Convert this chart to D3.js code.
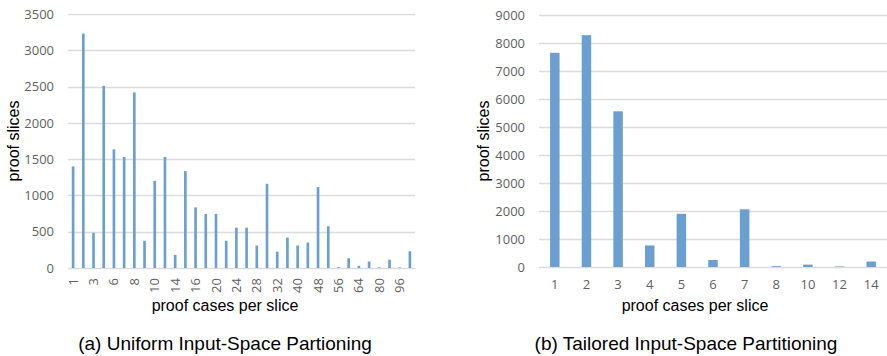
<!DOCTYPE html>
<html>
<head>
<meta charset="utf-8">
<script src="https://cdn.jsdelivr.net/npm/d3@7"></script>
<style>
  body { margin: 0; background: #fff; }
  svg { display: block; }
  .tick text { font-family: "Open Sans", sans-serif; font-size: 13px; fill: #5f5f5f; }
  .title { font-family: "Liberation Sans", Arial, sans-serif; fill: #000; }
</style>
</head>
<body>
<svg id="chart" width="887" height="356"></svg>
<script>
// (a) uniform partitioning
const uniformCases = ["1","2","3","4","6","7","8","9","10","12","14","15","16","18","20","22","24","26","28","30","32","36","40","44","48","52","56","60","64","72","80","88","96","112"];
const uniformSlices = [1400,3230,485,2510,1635,1530,2420,375,1200,1530,180,1335,835,745,745,375,555,555,310,1160,225,420,310,350,1115,575,12,135,30,90,10,115,8,230];
const uniformTicks = ["1","3","6","8","10","14","16","20","24","28","32","40","48","56","64","80","96"];
const uniformYTicks = [0,500,1000,1500,2000,2500,3000,3500];

// (b) tailored partitioning
const tailoredCases = ["1","2","3","4","5","6","7","8","10","12","14"];
const tailoredSlices = [7650,8280,5560,770,1900,250,2060,30,85,20,195];
const tailoredYTicks = [0,1000,2000,3000,4000,5000,6000,7000,8000,9000];

const barColor = '#6b9fd1';
const gridColor = '#dcdcdc';

const svg = d3.select('#chart');

function drawPanel(opts) {
    const {left, right, top, bottom, cats, vals, yTicks, xTicks, rotate, pad} = opts;

    const x = d3.scaleBand().domain(cats).range([left, right]).paddingInner(pad).paddingOuter(pad / 2);
    const y = d3.scaleLinear().domain([0, d3.max(yTicks)]).range([bottom, top]);

    const g = svg.append('g');

    // gridlines
    g.append('g')
        .selectAll('line')
        .data(yTicks)
        .join('line')
        .attr('x1', left)
        .attr('x2', right)
        .attr('y1', d => Math.round(y(d)) + 0.5)
        .attr('y2', d => Math.round(y(d)) + 0.5)
        .attr('stroke', gridColor)
        .attr('stroke-width', 1.3);

    // bars
    g.append('g')
        .selectAll('rect')
        .data(cats)
        .join('rect')
        .attr('x', (d) => x(d))
        .attr('width', x.bandwidth())
        .attr('y', (d, i) => y(vals[i]))
        .attr('height', (d, i) => bottom - y(vals[i]))
        .attr('fill', barColor);

    // y axis
    const yAxis = d3.axisLeft(y).tickValues(yTicks).tickFormat(d3.format('d')).tickSize(0).tickPadding(opts.yPad);
    const ya = g.append('g').attr('transform', `translate(${left},0)`).call(yAxis);
    ya.select('.domain').remove();

    // x axis
    const xAxis = d3.axisBottom(x).tickValues(xTicks).tickSize(0);
    const xa = g.append('g').attr('transform', `translate(0,${bottom})`).call(xAxis);
    xa.select('.domain').remove();
    if (rotate) {
        xa.selectAll('text')
            .style('text-anchor', 'end')
            .attr('dx', '-10px')
            .attr('dy', '0.35em')
            .attr('y', 0)
            .attr('transform', 'rotate(-90)');
    } else {
        xa.selectAll('text').attr('dy', '0.71em').attr('y', 13);
    }

    // titles
    g.append('text')
        .attr('class', 'title')
        .attr('transform', `translate(${opts.yTitleX},${(top + bottom) / 2}) rotate(-90)`)
        .attr('text-anchor', 'middle')
        .attr('dy', '0.35em')
        .style('font-size', '16px')
        .text('proof slices');

    g.append('text')
        .attr('class', 'title')
        .attr('x', opts.xTitleX)
        .attr('y', 311)
        .attr('text-anchor', 'middle')
        .style('font-size', '16px')
        .text('proof cases per slice');

    g.append('text')
        .attr('class', 'title')
        .attr('x', opts.captionX)
        .attr('y', 350)
        .attr('text-anchor', 'middle')
        .style('font-size', '19px')
        .text(opts.caption);
}

drawPanel({
    left: 68, right: 415, top: 14, bottom: 268,
    cats: uniformCases, vals: uniformSlices,
    yTicks: uniformYTicks, xTicks: uniformTicks,
    rotate: true, pad: 0.74, yPad: 14,
    yTitleX: 13, xTitleX: 225, captionX: 225,
    caption: '(a) Uniform Input-Space Partioning'
});

drawPanel({
    left: 539, right: 887, top: 15, bottom: 267,
    cats: tailoredCases, vals: tailoredSlices,
    yTicks: tailoredYTicks, xTicks: tailoredCases,
    rotate: false, pad: 0.7, yPad: 14,
    yTitleX: 483, xTitleX: 695, captionX: 686,
    caption: '(b) Tailored Input-Space Partitioning'
});
</script>
</body>
</html>
